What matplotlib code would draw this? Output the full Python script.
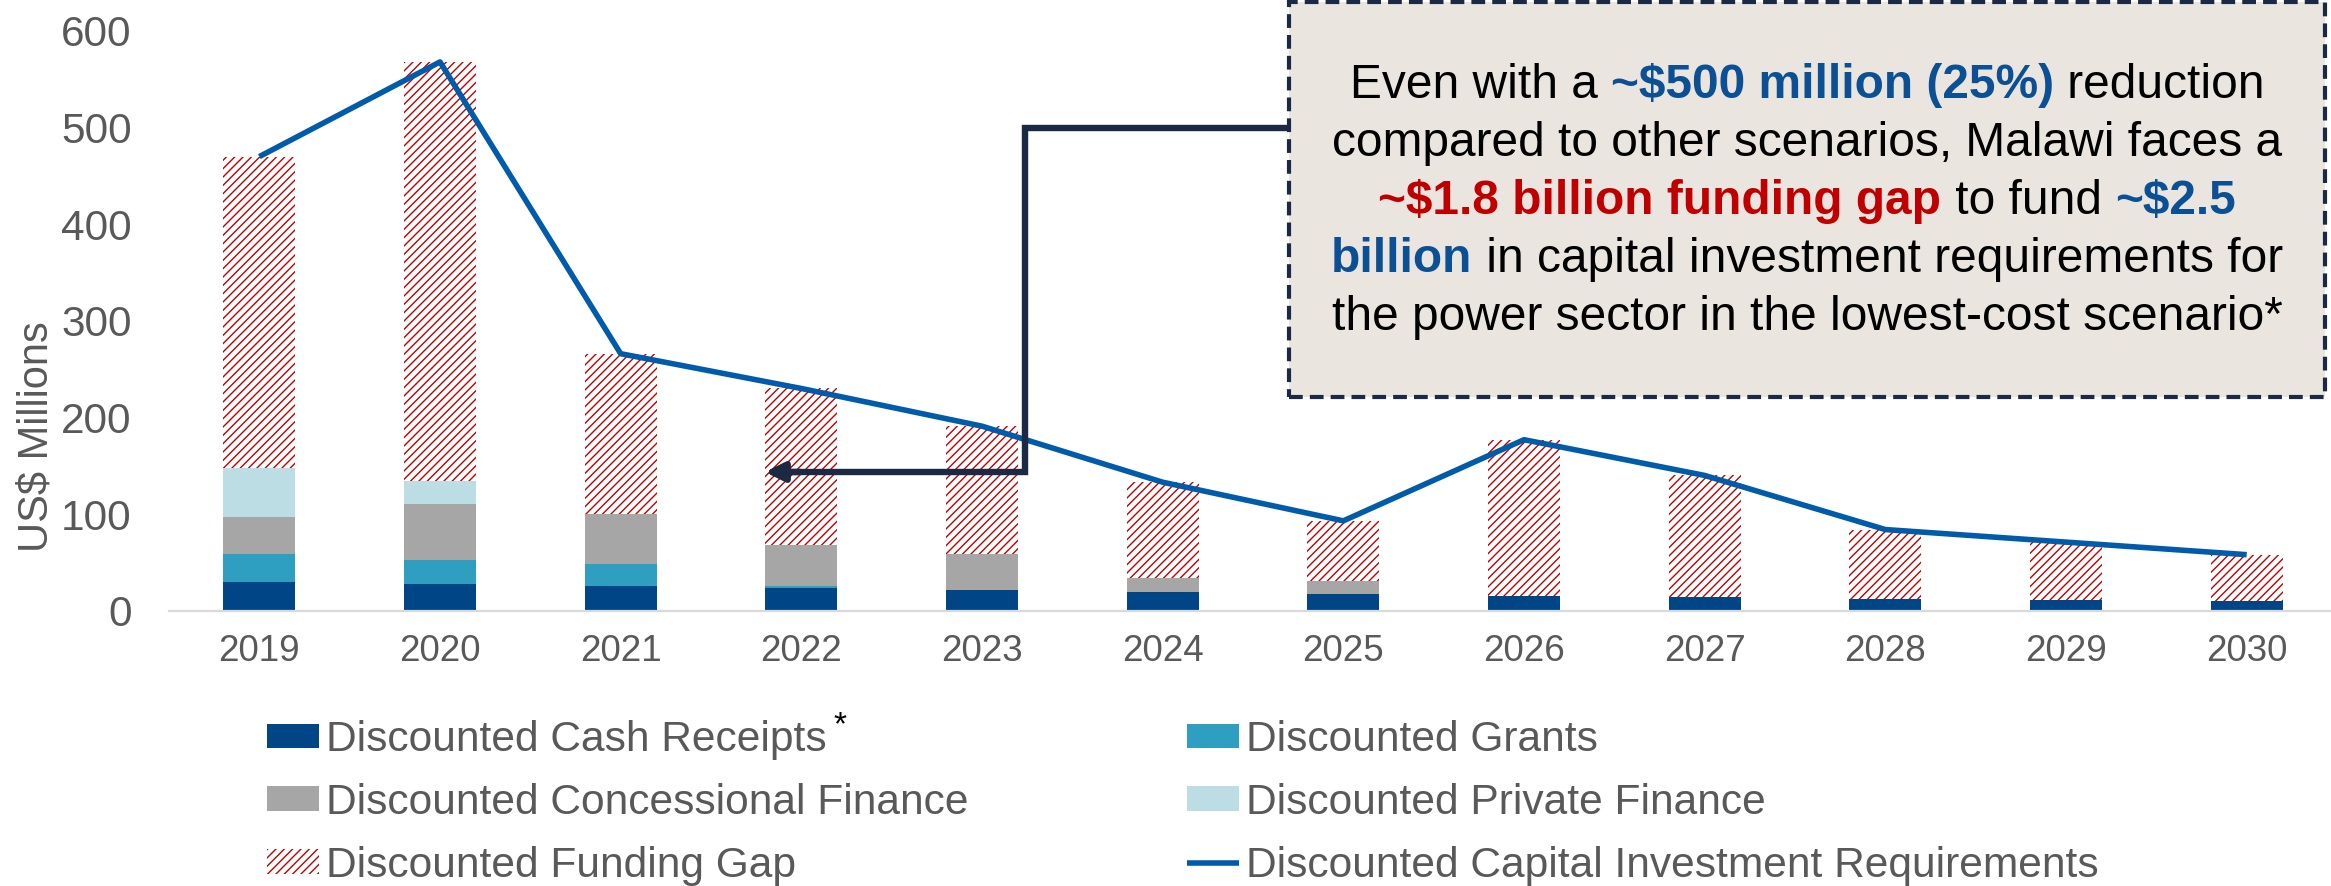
import matplotlib
matplotlib.use('Agg')
import matplotlib.pyplot as plt
from matplotlib.patches import FancyBboxPatch
from matplotlib.lines import Line2D
import numpy as np

plt.rcParams['font.family'] = ['Liberation Sans', 'DejaVu Sans']
plt.rcParams['hatch.linewidth'] = 1.0

# ---- data (US$ millions) ----
years = ['2019', '2020', '2021', '2022', '2023', '2024', '2025', '2026', '2027', '2028', '2029', '2030']
cash_receipts = [30, 28, 26, 24, 21, 19, 17, 15, 14, 12, 11, 10]
grants = [29, 24, 22, 2, 0, 0, 0, 0, 0, 0, 0, 0]
concessional = [38, 58, 52, 42, 38, 15, 14, 0, 0, 0, 0, 0]
private_finance = [51, 24, 0, 0, 0, 0, 0, 0, 0, 0, 0, 0]
funding_gap = [322, 434, 166, 162, 132, 99, 62, 162, 126, 72, 60, 48]
capex_req = [470, 568, 266, 230, 191, 133, 93, 177, 140, 84, 71, 58]

W, H = 2331, 886
fig = plt.figure(figsize=(W / 100, H / 100), dpi=100)
ax = fig.add_axes([169 / W, (H - 610.7) / H, 2168 / W, 579.7 / H])


def fpx(x, y):
    # pixel position (from top-left) -> figure fraction
    return (x / W, 1 - y / H)


x = np.arange(len(years))
bw = 0.4
bottom = np.zeros(len(years))
series = [
    (cash_receipts, '#004586', 'Discounted Cash Receipts'),
    (grants, '#2E9FC1', 'Discounted Grants'),
    (concessional, '#A6A6A6', 'Discounted Concessional Finance'),
    (private_finance, '#BDDDE4', 'Discounted Private Finance'),
]
handles = {}
for vals, col, lab in series:
    b = ax.bar(x, vals, bw, bottom=bottom, color=col, linewidth=0, label=lab, zorder=2)
    handles[lab] = b
    bottom += np.array(vals)

gap = ax.bar(x, funding_gap, bw, bottom=bottom, facecolor='white', edgecolor='#C00000',
             hatch='////', linewidth=0, label='Discounted Funding Gap', zorder=2)

line, = ax.plot(x, capex_req, color='#005BAA', lw=4.0, zorder=3,
                solid_capstyle='butt', label='Discounted Capital Investment Requirements')

ax.set_xlim(-0.5, len(years) - 0.5)
ax.set_ylim(0, 600)
ax.set_yticks(range(0, 601, 100))
ax.set_xticks(x)
ax.set_xticklabels(years)
for s in ['top', 'right', 'left']:
    ax.spines[s].set_visible(False)
ax.spines['bottom'].set_color('#D9D9D9')
ax.spines['bottom'].set_linewidth(1.6)
ax.tick_params(axis='y', length=0, labelsize=30.5, labelcolor='#595959', pad=27)
ax.tick_params(axis='x', length=0, labelsize=26.5, labelcolor='#595959', pad=17)

fig.text(*fpx(37, 437), 'US$ Millions', rotation=90, fontsize=30, color='#595959',
         ha='center', va='center')

# ---- legend ----
leg_handles = [handles['Discounted Cash Receipts'], handles['Discounted Concessional Finance'], gap,
               handles['Discounted Grants'], handles['Discounted Private Finance'], line]
leg_labels = ['Discounted Cash Receipts', 'Discounted Concessional Finance', 'Discounted Funding Gap',
              'Discounted Grants', 'Discounted Private Finance', 'Discounted Capital Investment Requirements']
leg = fig.legend(leg_handles, leg_labels, ncol=2, loc='upper left', bbox_to_anchor=fpx(267, 720),
                 frameon=False, fontsize=30.6, handlelength=1.22, handleheight=0.52,
                 handletextpad=0.16, columnspacing=5.15, labelspacing=0.54,
                 borderpad=0, borderaxespad=0)
for t in leg.get_texts():
    t.set_color('#595959')
fig.text(*fpx(840, 726), '*', fontsize=24, color='black', ha='center', va='center')

# ---- callout box ----
navy = '#1B2944'
blue = '#0B4F94'
red = '#C00000'
box = FancyBboxPatch(fpx(1289, 397), (2325 - 1289) / W, (397 - 2) / H,
                     boxstyle='square,pad=0', transform=fig.transFigure,
                     facecolor='#EAE6DF', edgecolor=navy, linewidth=3,
                     linestyle=(0, (3.3, 1.7)), zorder=5)
fig.patches.append(box)

lines_txt = [
    [('Even with a ', 'black', 'normal'), ('~$500 million (25%)', blue, 'bold'), (' reduction', 'black', 'normal')],
    [('compared to other scenarios, Malawi faces a', 'black', 'normal')],
    [('~$1.8 billion funding gap', red, 'bold'), (' to fund ', 'black', 'normal'), ('~$2.5', blue, 'bold')],
    [('billion', blue, 'bold'), (' in capital investment requirements for', 'black', 'normal')],
    [('the power sector in the lowest-cost scenario*', 'black', 'normal')],
]
line_y = [85, 143, 201, 259, 317]
renderer = fig.canvas.get_renderer()
xc = (1289 + 2325) / 2
for segs, yy in zip(lines_txt, line_y):
    items = []
    total = 0
    for s, c, wgt in segs:
        t = fig.text(0, 1 - yy / H, s, color=c, fontweight=wgt, fontsize=34.5,
                     ha='left', va='center', zorder=6)
        w = t.get_window_extent(renderer).width
        items.append((t, w))
        total += w
    xs = xc - total / 2
    for t, w in items:
        t.set_x(xs / W)
        xs += w

# ---- connector arrow ----
conn = Line2D([1289 / W, 1025 / W, 1025 / W, 780 / W],
              [1 - 128 / H, 1 - 128 / H, 1 - 472 / H, 1 - 472 / H],
              transform=fig.transFigure, color=navy, lw=4.6, zorder=4,
              solid_joinstyle='miter')
fig.lines.append(conn)
ax.annotate('', xy=fpx(765, 472), xytext=fpx(800, 472), xycoords='figure fraction',
            textcoords='figure fraction',
            arrowprops=dict(arrowstyle='-|>', color=navy, lw=4.6, mutation_scale=28,
                            shrinkA=0, shrinkB=0), zorder=4)

fig.savefig('out.png', dpi=100, facecolor='white')
